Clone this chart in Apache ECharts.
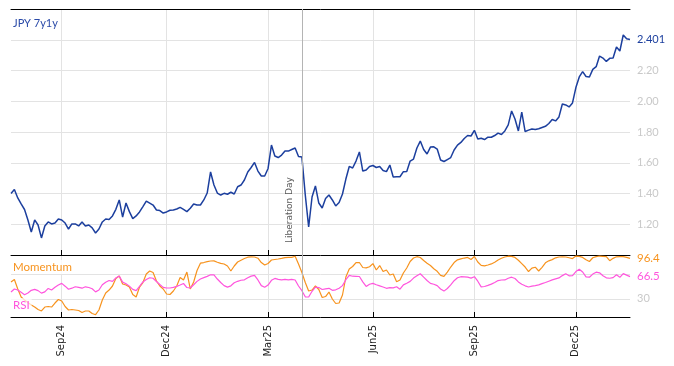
<!DOCTYPE html>
<html><head><meta charset="utf-8">
<script src="https://cdn.jsdelivr.net/npm/echarts@6/dist/echarts.min.js"></script>
<style>html,body{margin:0;padding:0;background:#fff}#c{width:674px;height:366px}</style>
</head><body><div id="c"></div>
<script>
// ---- data ----
const startDate = '2024-07-18';
const endDate = '2026-01-16';
const jpy7y1y = [
1.400,1.426,1.371,1.332,1.296,1.228,1.150,1.228,1.195,1.111,
1.189,1.215,1.202,1.208,1.234,1.228,1.208,1.169,1.202,1.202,
1.189,1.215,1.189,1.195,1.176,1.143,1.169,1.215,1.234,1.231,
1.254,1.297,1.358,1.247,1.338,1.282,1.237,1.254,1.280,1.315,
1.351,1.338,1.325,1.293,1.289,1.273,1.280,1.291,1.293,1.299,
1.310,1.297,1.282,1.304,1.332,1.325,1.325,1.358,1.403,1.540,
1.455,1.403,1.390,1.401,1.395,1.408,1.397,1.444,1.455,1.488,
1.540,1.569,1.602,1.546,1.514,1.514,1.563,1.715,1.644,1.634,
1.650,1.676,1.676,1.686,1.696,1.641,1.637,1.390,1.182,1.377,
1.449,1.338,1.306,1.367,1.390,1.358,1.319,1.341,1.397,1.494,
1.576,1.566,1.611,1.670,1.546,1.553,1.576,1.582,1.569,1.576,
1.550,1.542,1.585,1.507,1.509,1.509,1.542,1.543,1.611,1.624,
1.696,1.741,1.686,1.657,1.702,1.704,1.689,1.618,1.608,1.621,
1.634,1.683,1.715,1.732,1.758,1.777,1.774,1.811,1.754,1.759,
1.751,1.766,1.766,1.777,1.793,1.784,1.807,1.846,1.937,1.885,
1.807,1.930,1.803,1.812,1.820,1.816,1.821,1.829,1.837,1.855,
1.881,1.872,1.898,1.982,1.976,1.963,1.989,2.089,2.158,2.193,
2.161,2.158,2.207,2.225,2.294,2.281,2.259,2.279,2.281,2.353,
2.327,2.431,2.406,2.401
];
const momentum = [
57.6,61.7,46.1,32.9,28.0,23.8,19.7,16.4,12.3,9.9,
16.4,17.3,16.4,23.0,28.8,26.3,17.3,11.5,12.3,11.5,
10.7,7.4,9.9,9.9,5.8,3.8,11.5,28.0,39.5,44.4,
51.0,63.3,67.4,54.3,52.6,49.3,37.0,32.9,49.3,56.7,
70.7,75.7,73.2,59.2,51.0,46.1,37.8,37.0,42.8,51.0,
65.0,60.9,74.0,46.1,57.6,76.5,88.5,89.6,91.1,92.1,
92.3,90.0,88.2,87.2,83.9,75.7,83.9,90.5,93.4,96.2,
98.4,98.8,98.7,96.7,89.6,85.5,88.0,93.8,94.6,95.4,
96.5,97.7,98.2,98.2,100.0,87.2,73.2,56.7,42.8,44.4,
51.0,45.2,32.1,33.7,41.1,29.6,22.2,23.0,36.2,65.8,
78.9,83.1,89.6,89.6,81.4,80.9,82.6,87.8,77.3,84.7,
74.8,77.3,69.1,70.7,58.1,60.9,72.4,80.6,91.3,97.0,
99.2,97.9,92.9,88.3,84.7,79.4,75.2,68.6,66.9,73.7,
82.2,89.6,94.1,95.7,97.0,98.0,94.6,99.5,90.5,84.9,
84.2,85.5,87.3,90.0,93.8,96.7,98.7,100.0,99.8,98.0,
93.3,87.8,82.2,74.8,80.3,81.9,75.7,81.7,89.1,92.4,
94.4,97.4,98.7,99.0,98.7,97.5,96.1,100.3,99.7,98.0,
94.1,91.3,97.5,99.3,100.3,99.8,99.2,92.6,96.5,99.0,
99.2,99.3,98.2,96.4
];
const rsi = [
41.1,46.1,44.4,40.6,36.7,39.5,43.9,45.4,43.4,39.3,
41.4,47.0,44.4,48.8,52.6,55.3,50.7,45.6,47.4,49.8,
48.7,47.4,49.7,48.5,46.4,41.3,44.4,53.0,57.2,60.0,
58.7,64.1,67.4,57.4,54.6,50.8,45.4,43.4,50.5,57.6,
61.8,64.6,63.8,58.4,53.5,48.8,47.7,47.7,48.8,50.3,
52.6,55.1,48.5,47.7,53.1,58.6,62.5,64.8,66.8,69.4,
69.2,62.5,56.7,51.6,49.2,51.3,56.3,58.7,60.5,61.2,
64.6,67.3,68.4,60.9,51.6,49.0,52.6,60.4,63.5,61.8,
61.2,62.0,61.2,61.8,60.9,51.0,43.3,33.2,32.9,42.3,
49.0,48.5,45.2,46.4,47.2,43.9,44.7,47.4,51.6,61.3,
68.4,67.1,66.9,66.6,57.9,50.3,53.8,55.4,53.1,51.2,
49.3,47.2,48.2,48.0,49.8,45.7,52.8,55.6,58.6,64.0,
67.8,71.2,65.5,60.0,55.3,53.9,51.6,46.1,42.6,46.9,
52.8,59.7,64.5,66.3,66.0,65.6,64.0,66.3,58.9,49.5,
50.2,52.0,54.1,56.7,59.9,60.9,61.0,63.7,65.5,63.3,
57.7,53.8,51.3,49.3,50.7,51.6,52.8,54.9,56.7,58.9,
61.0,62.7,64.3,68.1,71.1,67.8,68.1,74.7,78.6,74.0,
66.0,65.5,70.6,73.7,72.7,67.9,64.5,63.7,64.8,69.4,
65.3,71.4,68.9,66.5
];
const quarterMonths = [2, 5, 8, 11];
const monthNames = ['Jan','Feb','Mar','Apr','May','Jun','Jul','Aug','Sep','Oct','Nov','Dec'];
const eventDate = '2025-04-02';
const eventLabel = 'Liberation Day';
const rsiLevels = [30, 70];
const rsiLabels = [30];
const mainTitle = 'JPY 7y1y';
const momTitle = 'Momentum';
const rsiTitle = 'RSI';

// ---- business-day calendar for the category axis ----
function businessDays(a, b) {
  const out = [];
  const pa = a.split('-').map(Number), pb = b.split('-').map(Number);
  let t = Date.UTC(pa[0], pa[1]-1, pa[2]);
  const e = Date.UTC(pb[0], pb[1]-1, pb[2]);
  while (t <= e) {
    const d = new Date(t);
    const wd = d.getUTCDay();
    if (wd !== 0 && wd !== 6) out.push(d.toISOString().slice(0,10));
    t += 86400000;
  }
  return out;
}
const bd = businessDays(startDate, endDate);
const N = jpy7y1y.length;
const cats = [];
for (let i = 0; i < N; i++) cats.push(bd[Math.round(i * (bd.length - 1) / (N - 1))]);
const eventCat = cats.find(c => c >= eventDate);

const isQ = (idx) => {
  if (idx <= 0) return false;
  const m = +cats[idx].slice(5,7) - 1, pm = +cats[idx-1].slice(5,7) - 1;
  return m !== pm && quarterMonths.indexOf(m) >= 0;
};

const blue = '#1c3f9e', orange = '#f7931e', pink = '#ff55dd';
const gridCol = '#e3e3e3', lblGray = '#c9c9c9';

const xBase = (grid, showLabel) => ({
  type: 'category', gridIndex: grid, data: cats, boundaryGap: false,
  axisLine: { show: true, lineStyle: { color: '#000', width: 1 } },
  axisTick: { show: true, inside: true, length: 5, interval: isQ, lineStyle: { color: '#000' } },
  axisLabel: { show: showLabel, interval: isQ, rotate: 90, margin: 8, fontSize: 10,
    fontFamily: 'DejaVu Sans', color: '#222',
    formatter: v => monthNames[+v.slice(5,7) - 1] + v.slice(2,4) },
  splitLine: { show: true, interval: isQ, lineStyle: { color: gridCol, width: 1 } }
});

const vLine = (showLabel) => ({
  silent: true, symbol: 'none',
  lineStyle: { color: '#b4b4b4', width: 1, type: 'solid' },
  label: { show: showLabel, formatter: eventLabel, position: 'insideStartTop', distance: [12, 8],
    color: '#595959', fontSize: 9, fontFamily: 'DejaVu Sans' },
  data: [{ xAxis: eventCat }]
});

const chart = echarts.init(document.getElementById('c'), null, { renderer: 'canvas' });
chart.setOption({
  animation: false,
  backgroundColor: '#fff',
  textStyle: { fontFamily: 'Lato' },
  title: [
    { text: mainTitle, left: 11, top: 18, padding: [0, 2],
      textStyle: { color: '#2a4aa8', fontSize: 11, fontWeight: 'normal', fontFamily: 'Lato' } },
    { text: momTitle, left: 11, top: 260, padding: [1, 2], backgroundColor: 'rgba(255,255,255,0.8)',
      textStyle: { color: orange, fontSize: 11.5, fontWeight: 'normal', fontFamily: 'Lato' } },
    { text: rsiTitle, left: 11, top: 298, padding: [1, 2], backgroundColor: 'rgba(255,255,255,0.7)',
      textStyle: { color: pink, fontSize: 11.5, fontWeight: 'normal', fontFamily: 'Lato' } }
  ],
  grid: [
    { left: 11, right: 44, top: 9, height: 246 },
    { left: 11, right: 44, top: 255, height: 62 }
  ],
  xAxis: [
    xBase(0, false),
    xBase(1, true),
    { type: 'category', gridIndex: 0, data: cats, boundaryGap: false, position: 'top',
      axisLine: { show: true, lineStyle: { color: '#000', width: 1 } },
      axisTick: { show: false }, axisLabel: { show: false }, splitLine: { show: false } }
  ],
  yAxis: [
    { type: 'value', gridIndex: 0, position: 'right', min: 1.0, max: 2.6, interval: 0.2,
      axisLine: { show: false }, axisTick: { show: false },
      axisLabel: { color: lblGray, fontSize: 11, margin: 7, fontFamily: 'Lato',
        formatter: v => (v > 1.1 && v < 2.3) ? v.toFixed(2) : '' },
      splitLine: { show: true, lineStyle: { color: gridCol, width: 1 } } },
    { type: 'value', gridIndex: 1, position: 'right', min: 0, max: 102,
      axisLine: { show: false }, axisTick: { show: false, customValues: rsiLevels },
      axisLabel: { customValues: rsiLabels, color: lblGray, fontSize: 11, margin: 7, fontFamily: 'Lato' },
      splitLine: { show: true, lineStyle: { color: gridCol, width: 1 } } }
  ],
  series: [
    { name: mainTitle, type: 'line', xAxisIndex: 0, yAxisIndex: 0, data: jpy7y1y, symbol: 'none',
      lineStyle: { color: blue, width: 1.5 }, itemStyle: { color: blue }, z: 4,
      endLabel: { show: true, formatter: p => (+p.value).toFixed(3), color: blue, fontSize: 11,
        fontFamily: 'Lato', distance: 7 },
      markLine: vLine(true) },
    { name: momTitle, type: 'line', xAxisIndex: 1, yAxisIndex: 1, data: momentum, symbol: 'none',
      lineStyle: { color: orange, width: 1.2 }, itemStyle: { color: orange }, z: 3,
      endLabel: { show: true, formatter: p => (+p.value).toFixed(1), color: orange, fontSize: 11.5,
        fontFamily: 'Lato', distance: 7 },
      markLine: vLine(false) },
    { name: rsiTitle, type: 'line', xAxisIndex: 1, yAxisIndex: 1, data: rsi, symbol: 'none',
      lineStyle: { color: pink, width: 1.2 }, itemStyle: { color: pink }, z: 3,
      endLabel: { show: true, formatter: p => (+p.value).toFixed(1), color: pink, fontSize: 11.5,
        fontFamily: 'Lato', distance: 7 } }
  ]
});
</script>
</body></html>
